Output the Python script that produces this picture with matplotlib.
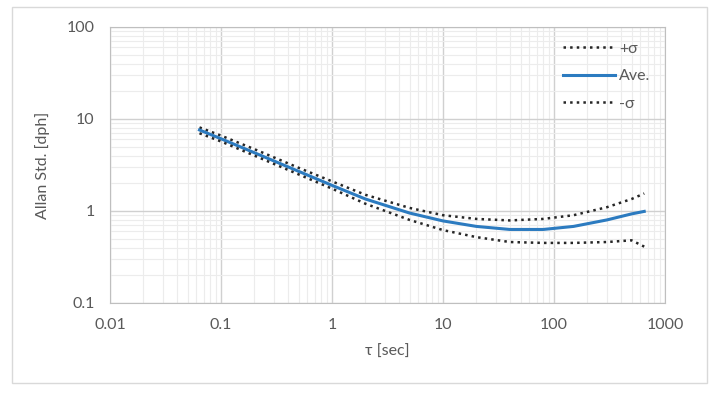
import matplotlib.pyplot as plt
from matplotlib.patches import Rectangle

tau = [0.064, 0.1, 0.2, 0.5, 1, 2, 5, 10, 20, 40, 80, 150, 300, 500, 650]
upper = [8.1, 6.6, 4.7, 2.95, 2.1, 1.5, 1.08, 0.9, 0.82, 0.79, 0.82, 0.9, 1.1, 1.35, 1.55]
ave = [7.6, 6.1, 4.3, 2.7, 1.9, 1.35, 0.95, 0.78, 0.68, 0.63, 0.63, 0.68, 0.8, 0.93, 0.99]
lower = [7.0, 5.7, 4.0, 2.5, 1.75, 1.2, 0.8, 0.62, 0.52, 0.46, 0.45, 0.45, 0.46, 0.48, 0.41]

plt.rcParams['font.family'] = ['Lato', 'DejaVu Sans']
txt = '#595959'
fs = 11.5

fig = plt.figure(figsize=(7.19, 3.95), dpi=100)
fig.patches.append(Rectangle((12/719, 12/395), 695/719, 376/395, transform=fig.transFigure,
                             fill=False, edgecolor='#d9d9d9', lw=1))
ax = fig.add_axes([110/719, 1-303/395, 555/719, 276/395])

ax.plot(tau, upper, color='#262626', ls=':', lw=1.8, label='+σ')
ax.plot(tau, ave, color='#2C7BC0', lw=2.2, label='Ave.')
ax.plot(tau, lower, color='#262626', ls=':', lw=1.8, label='-σ')

ax.set_xscale('log')
ax.set_yscale('log')
ax.set_xlim(0.01, 1000)
ax.set_ylim(0.1, 100)
ax.set_xticks([0.01, 0.1, 1, 10, 100, 1000])
ax.set_xticklabels(['0.01', '0.1', '1', '10', '100', '1000'])
ax.set_yticks([0.1, 1, 10, 100])
ax.set_yticklabels(['0.1', '1', '10', '100'])

ax.grid(which='major', color='#d0d0d0', lw=1)
ax.grid(which='minor', color='#ececec', lw=0.8)
ax.set_axisbelow(True)
ax.tick_params(which='both', length=0, colors=txt, labelsize=fs)
ax.tick_params(axis='x', pad=11)
ax.tick_params(axis='y', pad=11)
for s in ax.spines.values():
    s.set_color('#bfbfbf')

ax.set_xlabel('τ [sec]', color=txt, fontsize=fs, labelpad=9)
ax.set_ylabel('Allan Std. [dph]', color=txt, fontsize=fs, labelpad=12)

leg = ax.legend(loc='upper right', frameon=False, fontsize=fs, handlelength=3.2,
                labelspacing=0.85, borderaxespad=0.5, handletextpad=0.3)
for t in leg.get_texts():
    t.set_color(txt)

fig.savefig('out.png', dpi=100)
